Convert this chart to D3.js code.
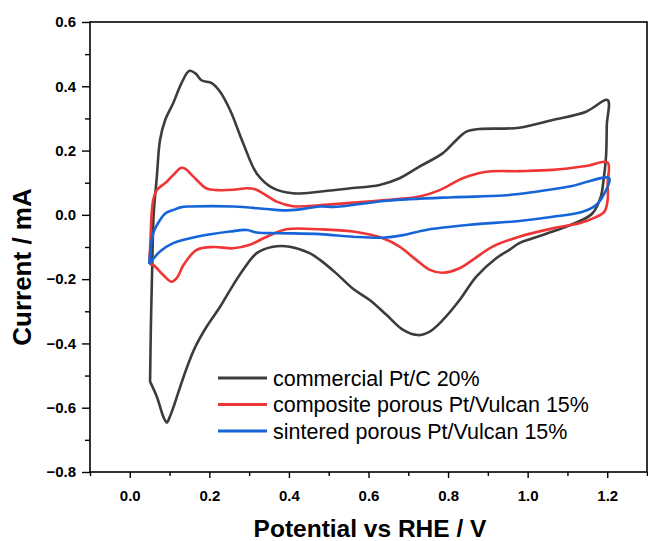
<!DOCTYPE html>
<html>
  <head>
    <meta charset="utf-8">
    <title>CV curves</title>
    <script type="text/javascript" src="https://cdn.jsdelivr.net/npm/d3@7"></script>
    <style>
    body {
      margin: 0;
      background: #fff;
    }
    .axis-title {
      font-family: Arial, "Liberation Sans", sans-serif;
      font-weight: bold;
      fill: #000;
    }
    .legend text {
      font-family: Arial, "Liberation Sans", sans-serif;
      font-size: 21.5px;
      fill: #000;
    }
    .line {
      fill: none;
      stroke-width: 2.6px;
      stroke-linejoin: round;
    }
    </style>
  </head>
  <body>
    <div id="chart"></div>
    <script type="text/javascript">

      // data: [potential V, current mA], anodic sweep then cathodic
      var commercial = [
        [0.051,-0.520],[0.053,-0.350],[0.056,-0.180],[0.060,0.000],[0.068,0.119],[0.076,0.233],
        [0.089,0.295],[0.109,0.347],[0.130,0.410],[0.150,0.448],[0.165,0.440],[0.181,0.418],
        [0.206,0.410],[0.227,0.383],[0.252,0.326],[0.285,0.223],[0.319,0.129],[0.360,0.083],
        [0.410,0.067],[0.477,0.072],[0.550,0.082],[0.628,0.093],[0.678,0.114],[0.728,0.150],
        [0.787,0.192],[0.821,0.233],[0.846,0.259],[0.879,0.267],[0.979,0.271],[1.063,0.295],
        [1.147,0.321],[1.201,0.357],
        [1.199,0.280],[1.197,0.181],[1.190,0.100],[1.184,0.057],[1.163,0.005],[1.130,-0.020],
        [1.063,-0.052],[1.013,-0.073],[0.979,-0.088],[0.954,-0.109],[0.921,-0.135],[0.871,-0.192],
        [0.829,-0.265],[0.787,-0.327],[0.754,-0.363],[0.724,-0.374],[0.687,-0.358],[0.645,-0.311],
        [0.603,-0.265],[0.561,-0.230],[0.519,-0.182],[0.478,-0.140],[0.452,-0.119],[0.402,-0.099],
        [0.360,-0.099],[0.319,-0.119],[0.285,-0.171],[0.252,-0.234],[0.227,-0.286],[0.193,-0.348],
        [0.165,-0.410],[0.145,-0.470],[0.128,-0.530],[0.112,-0.590],[0.100,-0.630],[0.093,-0.646],
        [0.085,-0.630],[0.068,-0.566],[0.051,-0.519]
      ];

      var composite = [
        [0.049,-0.153],[0.052,-0.080],[0.055,0.005],[0.059,0.046],[0.068,0.077],[0.093,0.103],
        [0.110,0.125],[0.128,0.146],[0.140,0.143],[0.160,0.119],[0.193,0.082],[0.220,0.077],
        [0.260,0.078],[0.294,0.083],[0.315,0.080],[0.335,0.067],[0.369,0.041],[0.410,0.027],
        [0.477,0.030],[0.560,0.038],[0.645,0.046],[0.728,0.057],[0.779,0.077],[0.837,0.114],
        [0.896,0.134],[0.979,0.136],[1.063,0.140],[1.147,0.152],[1.201,0.163],
        [1.201,0.100],[1.201,0.046],[1.193,0.010],[1.170,-0.008],[1.130,-0.026],[1.063,-0.042],
        [0.979,-0.068],[0.912,-0.099],[0.862,-0.140],[0.829,-0.166],[0.787,-0.180],[0.754,-0.171],
        [0.720,-0.140],[0.678,-0.099],[0.636,-0.073],[0.561,-0.052],[0.478,-0.045],[0.394,-0.045],
        [0.344,-0.068],[0.300,-0.094],[0.260,-0.104],[0.210,-0.100],[0.168,-0.109],[0.135,-0.156],
        [0.118,-0.197],[0.105,-0.208],[0.084,-0.187],[0.059,-0.156],[0.049,-0.153]
      ];

      var sintered = [
        [0.049,-0.153],[0.059,-0.057],[0.076,-0.016],[0.090,0.005],[0.109,0.015],[0.130,0.024],
        [0.151,0.026],[0.260,0.026],[0.344,0.018],[0.385,0.014],[0.427,0.017],[0.478,0.026],
        [0.519,0.025],[0.645,0.044],[0.812,0.055],[0.938,0.060],[1.021,0.072],[1.105,0.088],
        [1.205,0.114],
        [1.193,0.067],[1.172,0.031],[1.138,0.010],[1.063,-0.006],[0.979,-0.019],[0.854,-0.031],
        [0.745,-0.047],[0.687,-0.063],[0.636,-0.071],[0.561,-0.068],[0.478,-0.060],[0.377,-0.057],
        [0.319,-0.055],[0.294,-0.047],[0.252,-0.052],[0.168,-0.068],[0.109,-0.088],[0.076,-0.114],
        [0.049,-0.153]
      ];

      var seriesNames = ['commercial Pt/C 20%', 'composite porous Pt/Vulcan 15%', 'sintered porous Pt/Vulcan 15%'];
      var seriesColors = ['#3c3c3c', '#ef3535', '#1565d8'];

      var xTicks = [0.0, 0.2, 0.4, 0.6, 0.8, 1.0, 1.2];
      var xMinor = [-0.1, 0.1, 0.3, 0.5, 0.7, 0.9, 1.1, 1.3];
      var yTicks = [-0.8, -0.6, -0.4, -0.2, 0.0, 0.2, 0.4, 0.6];
      var yMinor = [-0.7, -0.5, -0.3, -0.1, 0.1, 0.3, 0.5];

      var series = [commercial, composite, sintered];

      var width = 648, height = 541;
      var margin = {left: 90, right: 647, top: 22, bottom: 472};

      var svg = d3.select('#chart').append('svg')
        .attr('width', width)
        .attr('height', height);

      var x = d3.scaleLinear().domain([-0.1, 1.3]).range([margin.left, margin.right]);
      var y = d3.scaleLinear().domain([-0.8, 0.6]).range([margin.bottom, margin.top]);

      // frame
      svg.append('rect')
        .attr('x', margin.left).attr('y', margin.top)
        .attr('width', margin.right - margin.left).attr('height', margin.bottom - margin.top)
        .attr('fill', 'none')
        .attr('stroke', '#000')
        .attr('stroke-width', 1.6);

      // axes
      var fmt = d3.format('.1f');
      var styleAxis = function(g) {
        g.select('.domain').remove();
        g.selectAll('line').attr('stroke-width', 1.4);
        g.selectAll('text')
          .style('font-family', 'Arial, "Liberation Sans", sans-serif')
          .style('font-weight', 'bold')
          .style('font-size', '15px')
          .style('fill', '#000');
      };
      svg.append('g')
        .attr('transform', 'translate(0,' + margin.bottom + ')')
        .call(d3.axisBottom(x).tickValues(xMinor).tickSize(4).tickFormat(''))
        .call(styleAxis);
      svg.append('g')
        .attr('transform', 'translate(0,' + margin.bottom + ')')
        .call(d3.axisBottom(x).tickValues(xTicks).tickSize(6).tickPadding(12).tickFormat(fmt))
        .call(styleAxis);

      svg.append('g')
        .attr('transform', 'translate(' + margin.left + ',0)')
        .call(d3.axisLeft(y).tickValues(yMinor).tickSize(5).tickFormat(''))
        .call(styleAxis);
      svg.append('g')
        .attr('transform', 'translate(' + margin.left + ',0)')
        .call(d3.axisLeft(y).tickValues(yTicks).tickSize(8).tickPadding(6).tickFormat(fmt))
        .call(styleAxis);

      // axis titles
      svg.append('text')
        .attr('class', 'axis-title')
        .attr('x', 370).attr('y', 537)
        .attr('text-anchor', 'middle')
        .style('font-size', '24.5px')
        .text('Potential vs RHE / V');
      svg.append('text')
        .attr('class', 'axis-title')
        .attr('transform', 'translate(31,267) rotate(-90)')
        .attr('text-anchor', 'middle')
        .style('font-size', '26px')
        .text('Current / mA');

      // curves
      var line = d3.line()
        .x(function(d) { return x(d[0]); })
        .y(function(d) { return y(d[1]); })
        .curve(d3.curveCatmullRom.alpha(0.5));

      svg.selectAll('.line')
        .data(series)
        .enter()
        .append('path')
        .attr('class', 'line')
        .style('stroke', function(d, i) { return seriesColors[i]; })
        .attr('d', line);

      // legend
      var legend = svg.selectAll('.legend')
        .data(seriesNames)
        .enter()
        .append('g')
        .attr('class', 'legend')
        .attr('transform', function(d, i) { return 'translate(218,' + (378 + i * 26.5) + ')'; });
      legend.append('line')
        .attr('x1', 0).attr('x2', 49)
        .attr('y1', 0).attr('y2', 0)
        .style('stroke', function(d, i) { return seriesColors[i]; })
        .style('stroke-width', 2.8);
      legend.append('text')
        .attr('x', 55)
        .attr('y', 7.5)
        .text(function(d) { return d; });
    </script>
  </body>
</html>
